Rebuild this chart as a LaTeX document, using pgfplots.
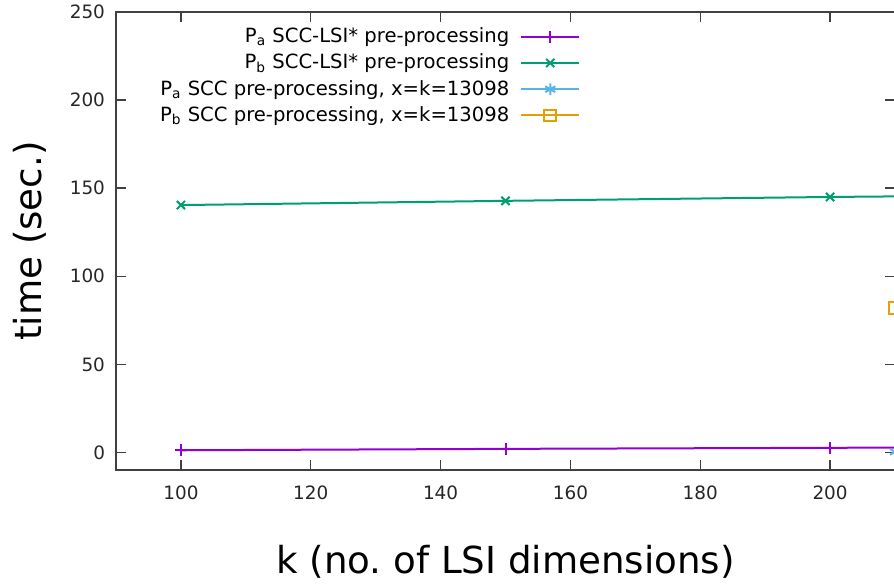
\documentclass[border=0pt]{standalone}
\usepackage{pgfplots}
\pgfplotsset{compat=1.18}
\usepackage{fontspec}
\setmainfont{DejaVu Sans}

\definecolor{gpPurple}{HTML}{9400D3}
\definecolor{gpGreen}{HTML}{009E73}
\definecolor{gpBlue}{HTML}{56B4E9}
\definecolor{gpOrange}{HTML}{E69F00}

\begin{document}
\begin{tikzpicture}[x=1bp,y=1bp]
\begin{axis}[
  name=main,
  at={(0,0)}, anchor=south west,
  scale only axis,
  width=389.5bp, height=229bp,
  xmin=90, xmax=210,
  ymin=-10, ymax=250,
  xtick={100,120,...,200},
  ytick={0,50,...,250},
  tick align=inside,
  major tick length=5bp,
  axis line style={draw=black!75, line width=0.7pt},
  every tick/.style={black!75, line width=0.7pt},
  tick label style={font=\fontsize{9.2bp}{11bp}\selectfont, text=black!85},
  /pgf/number format/assume math mode=true,
  xticklabel style={yshift=-4.5bp},
  yticklabel style={xshift=-2bp},
  xlabel={k (no.\ of LSI dimensions)},
  ylabel={time (sec.)},
  label style={font=\fontsize{18.6bp}{22bp}\selectfont},
  xlabel style={at={(axis description cs:0.5,0)}, anchor=center, yshift=-46bp},
  ylabel style={at={(axis description cs:0,0.5)}, anchor=center, yshift=43bp},
  legend style={draw=none, fill=none, at={(axis cs:162.5,245.8)}, anchor=north east,
    font=\fontsize{9.8bp}{11bp}\selectfont, row sep=0.2bp,
    legend cell align=right},
  legend plot pos=right,
  legend image code/.code={
    \path (0bp,0bp);
    \draw[mark repeat=2, mark phase=2] plot coordinates {(3.5bp,0bp) (18bp,0bp) (32.5bp,0bp)};},
  every axis plot/.append style={line width=1bp, mark size=2.9bp},
]
% SCC-LSI* pre-processing time versus k
\addplot[gpPurple, mark=+] coordinates {(100,1.2) (150,2.0) (200,2.6) (250,3.2)};
\addlegendentry{P\textsubscript{a} SCC-LSI* pre-processing}
\addplot[gpGreen, mark=x] coordinates {(100,140.4) (150,142.8) (200,145.0) (250,146.6)};
\addlegendentry{P\textsubscript{b} SCC-LSI* pre-processing}
% full SCC pre-processing (x = k = 13098)
\addplot[gpBlue, mark=asterisk] coordinates {(210,0.3)};
\addlegendentry{P\textsubscript{a} SCC pre-processing, x=k=13098}
\addplot[gpOrange, mark=square] coordinates {(210,82)};
\addlegendentry{P\textsubscript{b} SCC pre-processing, x=k=13098}
\end{axis}
\pgfresetboundingbox
\useasboundingbox (-58bp,-58bp) rectangle (389bp,235bp);
\end{tikzpicture}
\end{document}
